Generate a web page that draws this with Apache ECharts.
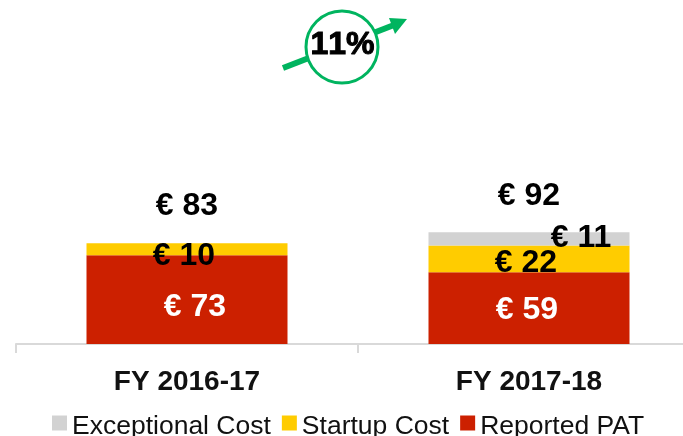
<!DOCTYPE html>
<html><head><meta charset="utf-8">
<style>html,body{margin:0;padding:0;background:#fff;overflow:hidden;width:683px;height:436px}#c{width:700px;height:436px}</style>
<script src="https://cdn.jsdelivr.net/npm/echarts@6/dist/echarts.min.js"></script></head>
<body><div id="c"></div>
<script>
const categories = ['FY 2016-17', 'FY 2017-18'];
const reportedPAT = [73, 59];
const startupCost = [10, 22];
const exceptionalCost = [null, 11];
const totals = [83, 92];
const growthLabel = '11%';
const legendNames = ['Exceptional Cost', 'Startup Cost', 'Reported PAT'];

const FONT = '"Liberation Sans", Arial, sans-serif';
const VALUE_SIZE = 32;
const euro = p => '€ ' + p.value;
const lab = color => ({
  show: true, position: 'inside', formatter: euro, color,
  fontFamily: FONT, fontWeight: 'bold', fontSize: VALUE_SIZE
});
const withOffset = (vals, offs) => vals.map((v, i) => ({ value: v, label: { offset: offs[i] } }));

const chart = echarts.init(document.getElementById('c'), null, { renderer: 'canvas' });
chart.setOption({
  animation: false,
  backgroundColor: '#fff',
  grid: { left: 16, right: 0, top: 101, height: 243, containLabel: false },
  legend: {
    data: legendNames, left: 47, top: 408, itemWidth: 15, itemHeight: 22, itemGap: 11,
    icon: 'path://M0 0H15V15H0ZM0 22L0 22', selectedMode: false,
    textStyle: { fontFamily: FONT, fontSize: 26.5, color: '#111' }
  },
  xAxis: {
    type: 'category', data: categories,
    axisLine: { show: true, lineStyle: { color: '#d9d9d9', width: 2 } },
    axisTick: { show: true, length: 9, lineStyle: { color: '#d9d9d9', width: 2 } },
    axisLabel: { color: '#111', fontFamily: FONT, fontWeight: 'bold', fontSize: 28, margin: 24 }
  },
  yAxis: { type: 'value', min: 0, max: 200, show: false, splitLine: { show: false } },
  series: [
    { name: 'Reported PAT', type: 'bar', stack: 'a', barWidth: 201, itemStyle: { color: '#cc2000' },
      label: lab('#fff'), data: withOffset(reportedPAT, [[8, 8], [-2, 2]]) },
    { name: 'Startup Cost', type: 'bar', stack: 'a', itemStyle: { color: '#ffcc00' },
      label: lab('#000'), data: withOffset(startupCost, [[-3, 7], [-3, 4]]) },
    { name: 'Exceptional Cost', type: 'bar', stack: 'a', itemStyle: { color: '#d2d2d2' },
      label: lab('#000'), data: withOffset(exceptionalCost, [[0, 0], [52, -1]]) },
    { name: 'Total', type: 'line', data: totals, symbol: 'circle', symbolSize: 1,
      itemStyle: { color: 'rgba(0,0,0,0)' }, lineStyle: { opacity: 0 }, silent: true,
      label: { show: true, position: 'top', distance: 20, formatter: euro, color: '#000',
        fontFamily: FONT, fontWeight: 'bold', fontSize: VALUE_SIZE } }
  ],
  graphic: [
    { type: 'line', shape: { x1: 283, y1: 68, x2: 394, y2: 25 }, style: { stroke: '#00b45f', lineWidth: 6 } },
    { type: 'polygon', shape: { points: [[407, 19], [389, 18], [395, 34]] }, style: { fill: '#00b45f' } },
    { type: 'circle', shape: { cx: 342, cy: 47, r: 36 }, style: { fill: '#fff', stroke: '#00b45f', lineWidth: 3 } },
    { type: 'text', x: 342.5, y: 45, style: { text: growthLabel.split('').map(c => '{a|' + c + '}').join(''),
      rich: { a: { fill: '#000', stroke: '#000', lineWidth: 1, font: 'bold 32px ' + FONT } },
      align: 'center', verticalAlign: 'middle' } }
  ]
});
</script></body></html>
